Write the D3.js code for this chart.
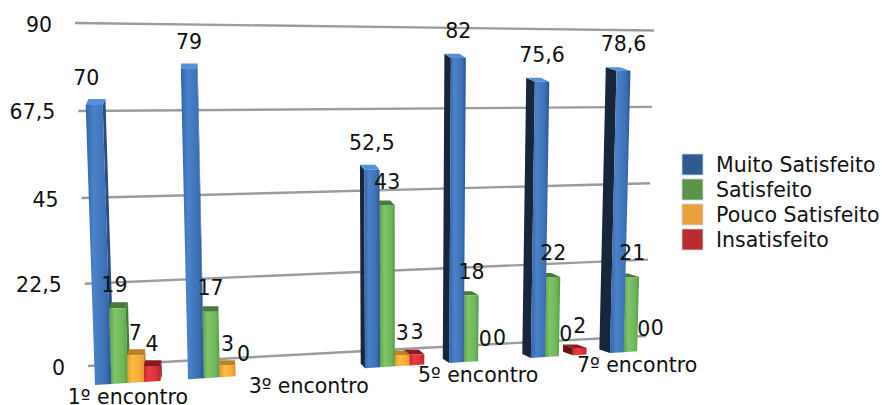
<!DOCTYPE html>
<html lang="pt">
<head>
<meta charset="utf-8">
<title>Satisfação por encontro</title>
<script src="https://cdn.jsdelivr.net/npm/d3@7/dist/d3.min.js"></script>
<style>
  html, body { margin: 0; padding: 0; background: #fff; }
  svg { display: block; }
  text { font-family: "DejaVu Sans", Verdana, sans-serif; fill: #111; }
</style>
</head>
<body>
<svg id="chart" width="882" height="405"></svg>
<script>
// Survey results per meeting
const categories = ["1º encontro", "2º encontro", "3º encontro", "4º encontro", "5º encontro", "6º encontro", "7º encontro"];
const shownCategories = ["1º encontro", "3º encontro", "5º encontro", "7º encontro"];
const seriesNames = ["Muito Satisfeito", "Satisfeito", "Pouco Satisfeito", "Insatisfeito"];
const muitoSatisfeito = [70, 79, null, 52.5, 82, 75.6, 78.6];
const satisfeito = [19, 17, null, 43, 18, 22, 21];
const poucoSatisfeito = [7, 3, null, 3, 0, 0, 0];
const insatisfeito = [4, 0, null, 3, 0, 2, 0];
const tickValues = [0, 22.5, 45, 67.5, 90];

const seriesValues = [muitoSatisfeito, satisfeito, poucoSatisfeito, insatisfeito];
const fontSize = 20.5;

// Colour ramps for each series: front gradient stops, top face, far and near side faces, legend swatch
const palette = [
  { stops: ["#3163a6", "#4b82ca", "#3d71b6", "#2b5590"], top: "#568ed8", side: "#17263a", edge: "#2a4c7e", key: "#2f5a92" },
  { stops: ["#5c9f4d", "#80c567", "#6eb65b", "#579a49"], top: "#4a7a3b", side: "#35552a", edge: "#4a7a3b", key: "#5b9448" },
  { stops: ["#e6992c", "#ffba44", "#f6aa36", "#e0942a"], top: "#bc8126", side: "#8f641c", edge: "#bc8126", key: "#e8a03a" },
  { stops: ["#c7252c", "#ea3c43", "#dc3038", "#c2242a"], top: "#8a1a1f", side: "#631216", edge: "#8a1a1f", key: "#b92b2e" }
];

const svg = d3.select("#chart");
const defs = svg.append("defs");
palette.forEach((p, j) => {
  const g = defs.append("linearGradient").attr("id", "front" + j);
  g.selectAll("stop").data(p.stops).join("stop")
    .attr("offset", (d, k) => [0, 0.3, 0.75, 1][k])
    .attr("stop-color", d => d);
});

// Perspective: the floor runs away to the right, so slots get narrower and shorter
const foreshorten = u => u / (1 + 0.017 * u);
const slotX = d3.scaleLinear().domain([foreshorten(0), foreshorten(6)]).range([95, 610]);
const floorX = u => slotX(foreshorten(u));
const floorY = d3.scaleLinear().domain([95, 610]).range([385, 353]);
const unitHeight = d3.scaleLinear().domain([95, 610]).range([4.0, 3.59]);
const seriesStep = 0.175;

// Walls of the plot: value -> point on the left and right ends of each gridline
const wallLeftY = d3.scalePow().exponent(1.03).domain([0, 90]).range([366, 23]);
const wallRightY = d3.scaleLinear().domain([0, 90]).range([336, 30.5]);
const wallLeftX = d3.scaleLinear().domain([0, 90]).range([88, 75]);
const wallRightX = d3.scaleLinear().domain([0, 90]).range([646, 654]);

const leanAt = (x, h) => (x - 400) * h * 1.09e-4;
const depthAt = x => -(x - 200) * 0.026;
const depthRise = d3.scaleLinear().domain([95, 610]).range([-6, -3.5]);
const pts = a => a.map(p => p.join(",")).join(" ");
const comma = v => String(v).replace(".", ",");

function barShape(i, j, v) {
  const u = i + j * seriesStep;
  const x0 = floorX(u), x1 = floorX(u + seriesStep);
  const b0 = floorY(x0), b1 = floorY(x1);
  const h = v * unitHeight(x0);
  const t0 = [x0 + leanAt(x0, h), b0 - h];
  const t1 = [x1 + leanAt(x1, h), b0 - h];
  const d = depthAt(x0);
  const rise = depthRise(x0);
  const back = p => [p[0] + d, p[1] + rise];
  return {
    i, j, v, x0, x1, b0, b1, t0, t1, d,
    front: [[x0, b0], [x1, b1], t1, t0],
    top: [t0, t1, back(t1), back(t0)],
    side: d < 0
      ? [[x0, b0], t0, back(t0), back([x0, b0])]
      : [[x1, b1], t1, back(t1), back([x1, b1])],
    labelX: (t0[0] + t1[0]) / 2,
    frontTop: t0[1]
  };
}

// Gridlines
svg.append("g").selectAll("line").data(tickValues).join("line")
  .attr("x1", d => wallLeftX(d)).attr("y1", d => wallLeftY(d))
  .attr("x2", d => wallRightX(d)).attr("y2", d => wallRightY(d))
  .attr("stroke", "#9c9c9c").attr("stroke-width", 2.4);

svg.append("g").selectAll("text").data(tickValues).join("text")
  .attr("x", d => wallLeftX(d) - 23).attr("y", d => wallLeftY(d) + 1.5)
  .attr("text-anchor", "end").attr("dominant-baseline", "central")
  .attr("font-size", fontSize).text(comma);

// Bars: slots left of the vanishing point stack left to right, the others right to left
const bars = svg.append("g");
categories.forEach((c, i) => {
  const order = i < 3 ? [0, 1, 2, 3] : [3, 2, 1, 0];
  order.forEach(j => {
    const v = seriesValues[j][i];
    if (!v) return;
    const s = barShape(i, j, v);
    const g = bars.append("g");
    g.append("polygon").attr("points", pts(s.side))
      .attr("fill", s.d < 0 ? palette[j].side : palette[j].edge);
    g.append("polygon").attr("points", pts(s.top)).attr("fill", palette[j].top);
    g.append("polygon").attr("points", pts(s.front)).attr("fill", `url(#front${j})`);
  });
});

// Value labels sit a fixed distance above the front edge of each bar top
const labelLift = [27, 23.5, 22, 22];
const labelNudge = new Map([["0|0", -8], ["0|1", -3]]);
const labels = [];
categories.forEach((c, i) => {
  seriesValues.forEach((vals, j) => {
    if (vals[i] === null) return;
    const s = barShape(i, j, vals[i]);
    labels.push({
      text: comma(vals[i]),
      x: s.labelX + (labelNudge.get(i + "|" + j) || 0),
      y: s.frontTop - labelLift[j]
    });
  });
});
svg.append("g").selectAll("text").data(labels).join("text")
  .attr("x", d => d.x).attr("y", d => d.y)
  .attr("text-anchor", "middle").attr("dominant-baseline", "central")
  .attr("font-size", fontSize).text(d => d.text);

// Category labels follow the floor
svg.append("g").selectAll("text").data(shownCategories).join("text")
  .attr("x", d => floorX(categories.indexOf(d) + 2 * seriesStep))
  .attr("y", d => floorY(floorX(categories.indexOf(d) + 2 * seriesStep)) + 14)
  .attr("text-anchor", "middle").attr("dominant-baseline", "central")
  .attr("font-size", fontSize).text(d => d);

// Legend
const legendY = d3.scalePoint().domain(seriesNames).range([154, 229]);
const legend = svg.append("g").selectAll("g").data(seriesNames).join("g")
  .attr("transform", d => `translate(682,${legendY(d)})`);
legend.append("rect").attr("width", 21).attr("height", 21)
  .attr("fill", (d, j) => palette[j].key)
  .attr("stroke", "#ccd6e4").attr("stroke-width", 0.8);
legend.append("text").attr("x", 34).attr("y", 11)
  .attr("dominant-baseline", "central").attr("font-size", fontSize).text(d => d);
</script>
</body>
</html>
